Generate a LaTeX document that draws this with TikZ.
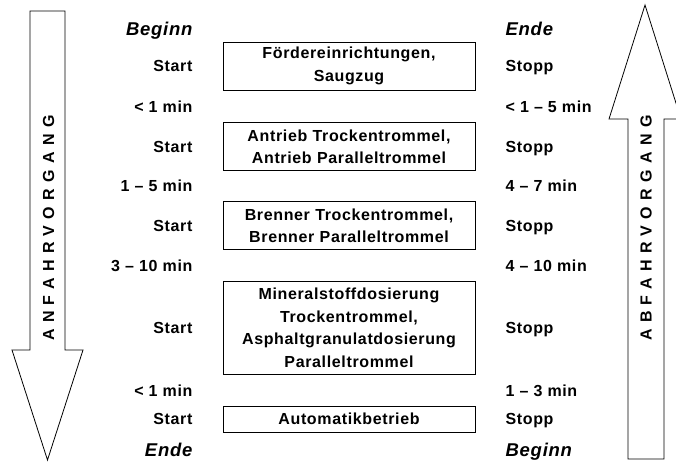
\documentclass[tikz,border=0pt]{standalone}
\usepackage{fontspec}
\setmainfont{Liberation Sans}[LetterSpace=4]
\newfontfamily\spacedfont{Liberation Sans}[LetterSpace=40]
\usetikzlibrary{positioning,calc}
\tikzstyle{sbox}=[rectangle, draw=black, line width=0.8pt, minimum width=252pt,
                  text width=245pt, align=center, inner sep=0pt,
                  font=\fontsize{16}{22.5}\selectfont\bfseries]
\tikzstyle{lbl}=[inner sep=0pt, text height=11.5pt, text depth=0pt,
                 font=\fontsize{16}{19}\selectfont\bfseries]
\tikzstyle{llbl}=[lbl, anchor=east]
\tikzstyle{rlbl}=[lbl, anchor=west]
\tikzstyle{ilbl}=[lbl, text height=13.2pt, font=\fontsize{18.5}{22}\selectfont\bfseries\itshape]
\tikzstyle{vlbl}=[rotate=90, inner sep=0pt, font=\fontsize{16}{19}\spacedfont\bfseries]
\tikzstyle{bigarrow}=[draw=black, line width=0.8pt, fill=white, line join=miter]
\begin{document}
\begin{tikzpicture}[x=1pt, y=-1pt]
\useasboundingbox (0,0) rectangle (676,461);

% the two big arrows
\draw[bigarrow] (30,11) -- (65,11) -- (65,350) -- (83,350) -- (47.5,460)
  -- (12,350) -- (30,350) -- cycle;
\draw[bigarrow] (628,459) -- (628,119) -- (609,119) -- (645,5)
  -- (681,119) -- (664,119) -- (664,459) -- cycle;
\node (ANFAHR) [vlbl] at (48.5,228) {ANFAHRVORGANG};
\node (ABFAHR) [vlbl] at (646,228) {ABFAHRVORGANG};

% steps
\node (FOERD) [sbox, minimum height=48pt] at (349,66) {F\"ordereinrichtungen,\\Saugzug};
\node (ANTR) [sbox, minimum height=48pt, below=32pt of FOERD] {Antrieb Trockentrommel,\\Antrieb Paralleltrommel};
\node (BRENN) [sbox, minimum height=48pt, below=30pt of ANTR] {Brenner Trockentrommel,\\Brenner Paralleltrommel};
\node (DOSIER) [sbox, minimum height=93pt, below=31pt of BRENN] {Mineralstoffdosierung\\Trockentrommel,\\Asphaltgranulatdosierung\\Paralleltrommel};
\node (AUTO) [sbox, minimum height=26pt, below=31pt of DOSIER] {Automatikbetrieb};
\coordinate (GAP1) at ($(FOERD.south)!0.5!(ANTR.north)$);
\coordinate (GAP2) at ($(ANTR.south)!0.5!(BRENN.north)$);
\coordinate (GAP3) at ($(BRENN.south)!0.5!(DOSIER.north)$);
\coordinate (GAP4) at ($(DOSIER.south)!0.5!(AUTO.north)$);

% start side
\node (STA1) [llbl, left=30pt of FOERD] {Start};
\node (STA2) [llbl, left=30pt of ANTR] {Start};
\node (STA3) [llbl, left=30pt of BRENN] {Start};
\node (STA4) [llbl, left=30pt of DOSIER] {Start};
\node (STA5) [llbl, left=30pt of AUTO] {Start};
\node (BEGL) [ilbl, above=24.6pt of STA1.north east, anchor=south east] {Beginn};
\node (ENDL) [ilbl, below=17.6pt of STA5.south east, anchor=north east] {Ende};
\node (TL1) [llbl] at (STA1.east |- GAP1) {< 1 min};
\node (TL2) [llbl] at (STA1.east |- GAP2) {1 – 5 min};
\node (TL3) [llbl] at (STA1.east |- GAP3) {3 – 10 min};
\node (TL4) [llbl] at (STA1.east |- GAP4) {< 1 min};

% stop side
\node (STO1) [rlbl, right=30pt of FOERD] {Stopp};
\node (STO2) [rlbl, right=30pt of ANTR] {Stopp};
\node (STO3) [rlbl, right=30pt of BRENN] {Stopp};
\node (STO4) [rlbl, right=30pt of DOSIER] {Stopp};
\node (STO5) [rlbl, right=30pt of AUTO] {Stopp};
\node (ENDR) [ilbl, above=24.6pt of STO1.north west, anchor=south west] {Ende};
\node (BEGR) [ilbl, below=17.6pt of STO5.south west, anchor=north west] {Beginn};
\node (TR1) [rlbl] at (STO1.west |- GAP1) {< 1 – 5 min};
\node (TR2) [rlbl] at (STO1.west |- GAP2) {4 – 7 min};
\node (TR3) [rlbl] at (STO1.west |- GAP3) {4 – 10 min};
\node (TR4) [rlbl] at (STO1.west |- GAP4) {1 – 3 min};

\end{tikzpicture}
\end{document}
